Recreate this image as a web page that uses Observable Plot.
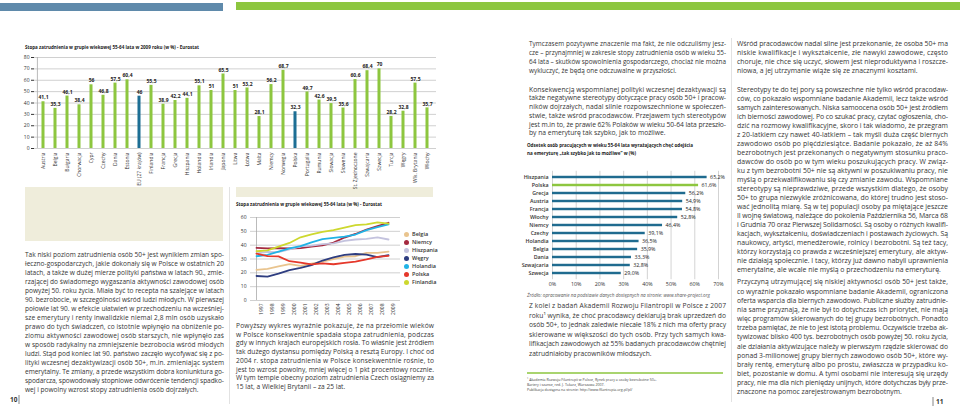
<!DOCTYPE html>
<html><head><meta charset="utf-8">
<script src="https://cdn.jsdelivr.net/npm/d3@7"></script>
<script src="https://cdn.jsdelivr.net/npm/@observablehq/plot@0.6"></script>
<style>
html,body{margin:0;padding:0;background:#fff;}
body{width:960px;height:410px;overflow:hidden;position:relative;font-family:"Open Sans",sans-serif;}
#overlay{position:absolute;left:0;top:0;}
.chart{position:absolute;}
.c3 g[aria-label^="y-axis"] text{font-weight:600;}
.legend{position:absolute;left:404px;top:230px;font:600 5.5px "Open Sans",sans-serif;color:#333;}
.legend div{height:8px;line-height:8px;display:flex;align-items:center;}
.legend span.sw{display:inline-block;width:5px;height:5px;border-radius:50%;margin-right:3px;}
</style></head>
<body>
<svg id="overlay" width="960" height="410"></svg>
<script>
// ---------- Chart 1: employment rate 55-64, 2009 ----------
const countries2009 = ["Austria","Belgia","Bułgaria","Chorwacja","Cypr","Czechy","Dania","Estonia","EU (27 krajów)","Finlandia","Francja","Grecja","Hiszpania","Holandia","Irlandia","Japonia","Litwa","Łotwa","Malta","Niemcy","Norwegia","Polska","Portugalia","Rumunia","Słowacja","Słowenia","St. Zjednoczone","Szwajcaria","Szwecja","Turcja","Węgry","Wlk. Brytania","Włochy"];
const rate2009 = [41.1,35.3,46.1,38.4,56,46.8,57.5,60.4,46,55.5,38.9,42.2,44.1,55.1,51,65.5,51,53.2,28.1,56.2,68.7,32.3,49.7,42.6,39.5,35.6,60.6,68.4,70,28.2,32.8,57.5,35.7];
const highlight2009 = ["EU (27 krajów)","Polska"];
const ticks1 = [0,10,20,30,40,50,60,70,80];

// ---------- Chart 2: employment rate 55-64, 1997-2009 ----------
const years = [1997,1998,1999,2000,2001,2002,2003,2004,2005,2006,2007,2008,2009];
const seriesNames = ["Belgia","Niemcy","Hiszpania","Węgry","Holandia","Polska","Finlandia"];
const belgia    = [22.1,22.9,24.6,26.3,25.1,26.6,28.1,30.0,31.8,32.0,34.4,34.5,35.3];
const niemcy    = [38.1,37.7,37.8,37.6,37.9,38.9,39.9,41.8,45.5,48.1,51.3,53.8,56.2];
const hiszpania = [34.1,35.1,35.0,37.0,39.2,39.6,40.7,41.3,43.1,44.1,44.6,45.6,44.1];
const wegry     = [17.7,17.3,19.4,21.9,23.5,25.6,28.9,31.1,33.0,33.6,33.1,31.4,32.8];
const holandia  = [32.0,33.0,35.3,37.6,39.3,42.0,44.3,45.2,46.1,47.7,50.9,53.0,55.1];
const polska    = [33.9,32.1,31.9,28.4,27.4,26.1,26.9,26.2,27.2,28.1,29.7,31.6,32.3];
const finlandia = [35.6,36.2,39.0,41.6,45.7,47.8,49.6,50.9,52.7,54.5,55.0,56.5,55.5];
const seriesValues = [belgia,niemcy,hiszpania,wegry,holandia,polska,finlandia];
const seriesColors = ["#e9c48e","#a52a40","#c4c3de","#2e3d80","#20b3e6","#e5382b","#cdd82f"];
const ticks2 = [0,10,20,30,40,50,60];

// ---------- Chart 3: wish to retire asap ----------
const retireCountries = ["Hiszpania","Polska","Grecja","Austria","Francja","Włochy","Niemcy","Czechy","Holandia","Belgia","Dania","Szwajcaria","Szwecja"];
const retireShare = [65.2,61.6,56.2,54.9,54.8,52.8,46.4,39.1,36.5,35.9,33.3,32.8,29.0];
const ticks3 = [0,10,20,30,40,50,60,70];

// ---------- Texts ----------
const title1 = "Stopa zatrudnienia w grupie wiekowej 55-64 lata w 2009 roku (w %) - Eurostat";
const title2 = "Stopa zatrudnienia w grupie wiekowej 55-64 lata (w %) - Eurostat";
const title3 = ["Odsetek osób pracujących w wieku 55-64 lata wyrażających chęć odejścia","na emeryturę „tak szybko jak to możliwe” w (%)"];
const source3 = "Źródło: opracowanie na podstawie danych dostępnych na stronie: www.share-project.org";
const leftText = [
"Tak niski poziom zatrudnienia osób 50+ jest wynikiem zmian spo-",
"łeczno-gospodarczych, jakie dokonały się w Polsce w ostatnich 20",
"latach, a także w dużej mierze polityki państwa w latach 90., zmie-",
"rzającej do świadomego wygaszania aktywności zawodowej osób",
"powyżej 50. roku życia. Miała być to recepta na szalejące w latach",
"90. bezrobocie, w szczególności wśród ludzi młodych. W pierwszej",
"połowie lat 90. w efekcie ułatwień w przechodzeniu na wcześniej-",
"sze emerytury i renty inwalidzkie niemal 2,8 mln osób uzyskało",
"prawo do tych świadczeń, co istotnie wpłynęło na obniżenie po-",
"ziomu aktywności zawodowej osób starszych, nie wpłynęło zaś",
"w sposób radykalny na zmniejszenie bezrobocia wśród młodych",
"ludzi. Stąd pod koniec lat 90. państwo zaczęło wycofywać się z po-",
"lityki wczesnej dezaktywizacji osób 50+, m.in. zmieniając system",
"emerytalny. Te zmiany, a przede wszystkim dobra koniunktura go-",
"spodarcza, spowodowały stopniowe odwrócenie tendencji spadko-",
"wej i powolny wzrost stopy zatrudnienia osób dojrzałych."];
const midText = [
"Powyższy wykres wyraźnie pokazuje, że na przełomie wieków",
"w Polsce konsekwentnie spadała stopa zatrudnienia, podczas",
"gdy w innych krajach europejskich rosła. To właśnie jest źródłem",
"tak dużego dystansu pomiędzy Polską a resztą Europy. I choć od",
"2004 r. stopa zatrudnienia w Polsce konsekwentnie rośnie, to",
"jest to wzrost powolny, mniej więcej o 1 pkt procentowy rocznie.",
"W tym tempie obecny poziom zatrudnienia Czech osiągniemy za",
"15 lat, a Wielkiej Brytanii – za 25 lat."];
const c1p1 = [
"Tymczasem pozytywne znaczenie ma fakt, że nie odczuliśmy jesz-",
"cze – przynajmniej w zakresie stopy zatrudnienia osób w wieku 55-",
"64 lata – skutków spowolnienia gospodarczego, chociaż nie można",
"wykluczyć, że będą one odczuwalne w przyszłości."];
const c1p2 = [
"Konsekwencją wspomnianej polityki wczesnej dezaktywacji są",
"także negatywne stereotypy dotyczące pracy osób 50+ i pracow-",
"ników dojrzałych, nadal silnie rozpowszechnione w społeczeń-",
"stwie, także wśród pracodawców. Przejawem tych stereotypów",
"jest m.in to, że prawie 62% Polaków w wieku 50-64 lata przeszło-",
"by na emeryturę tak szybko, jak to możliwe."];
const c1p3 = [
"Z kolei z badań Akademii Rozwoju Filantropii w Polsce z 2007",
"roku¹ wynika, że choć pracodawcy deklarują brak uprzedzeń do",
"osób 50+, to jednak zaledwie niecałe 18% z nich ma oferty pracy",
"skierowane w większości do tych osób. Przy tych samych kwa-",
"lifikacjach zawodowych aż 55% badanych pracodawców chętniej",
"zatrudniałoby pracowników młodszych."];
const footnote = [
"¹  Akademia Rozwoju Filantropii w Polsce, Rynek pracy a osoby bezrobotne 50+.",
"    Bariery i szanse, red. J. Tokarz, Warszawa 2007.",
"    Publikacja dostępna na stronie: http://www.filantropia.org.pl/pl/"];
const c2p1 = [
"Wśród pracodawców nadal silne jest przekonanie, że osoba 50+ ma",
"niskie kwalifikacje i wykształcenie, złe nawyki zawodowe, często",
"choruje, nie chce się uczyć, słowem jest nieproduktywna i roszcze-",
"niowa, a jej utrzymanie wiąże się ze znacznymi kosztami."];
const c2p2 = [
"Stereotypy te do tej pory są powszechne nie tylko wśród pracodaw-",
"ców, co pokazało wspomniane badanie Akademii, lecz także wśród",
"samych zainteresowanych. Niska samoocena osób 50+ jest źródłem",
"ich bierności zawodowej. Po co szukać pracy, czytać ogłoszenia, cho-",
"dzić na rozmowy kwalifikacyjne, skoro i tak wiadomo, że przegram",
"z 20-latkiem czy nawet 40-latkiem – tak myśli duża część biernych",
"zawodowo osób po pięćdziesiątce. Badanie pokazało, że aż 84%",
"bezrobotnych jest przekonanych o negatywnym stosunku praco-",
"dawców do osób po w tym wieku poszukujących pracy. W związ-",
"ku z tym bezrobotni 50+ nie są aktywni w poszukiwaniu pracy, nie",
"myślą o przekwalifikowaniu się czy zmianie zawodu. Wspomniane",
"stereotypy są nieprawdziwe, przede wszystkim dlatego, że osoby",
"50+ to grupa niezwykle zróżnicowana, do której trudno jest stoso-",
"wać jednolitą miarę. Są w tej populacji osoby pa  miętające jeszcze",
"II wojnę światową, należące do pokolenia Października 56, Marca 68",
"i Grudnia 70 oraz Pierwszej Solidarności. Są osoby o różnych kwalifi-",
"kacjach, wykształceniu, doświadczeniach i postawach życiowych. Są",
"naukowcy, artyści, menedżerowie, rolnicy i bezrobotni. Są też tacy,",
"którzy korzystają co prawda z wcześniejszej emerytury, ale aktyw-",
"nie działają społecznie. I tacy, którzy już dawno nabyli uprawnienia",
"emerytalne, ale wcale nie myślą o przechodzeniu na emeryturę."];
const c2p3 = [
"Przyczyną utrzymującej się niskiej aktywności osób 50+ jest także,",
"co wyraźnie pokazało wspomniane badanie Akademii, ograniczona",
"oferta wsparcia dla biernych zawodowo. Publiczne służby zatrudnie-",
"nia same przyznają, że nie był to dotychczas ich priorytet, nie mają",
"więc programów skierowanych do tej grupy bezrobotnych. Ponadto",
"trzeba pamiętać, że nie to jest istotą problemu. Oczywiście trzeba ak-",
"tywizować blisko 400 tys. bezrobotnych osób powyżej 50. roku życia,",
"ale działania aktywizujące należy w pierwszym rzędzie skierować do",
"ponad 3-milionowej grupy biernych zawodowo osób 50+, które wy-",
"brały rentę, emeryturę albo po prostu, zwłaszcza w przypadku ko-",
"biet, pozostanie w domu. A tymi osobami nie interesują się urzędy",
"pracy, nie ma dla nich pieniędzy unijnych, które dotychczas były prze-",
"znaczone na pomoc zarejestrowanym bezrobotnym."];

// ---------- Page decoration & text ----------
const svg = d3.select("#overlay");
const TXT = "#353535";
svg.append("rect").attr("x",0).attr("y",3).attr("width",223).attr("height",8).attr("fill","#5f8aab");
svg.append("rect").attr("x",236).attr("y",2).attr("width",724).attr("height",8).attr("fill","#8dc63f");
svg.append("rect").attr("x",25).attr("y",187).attr("width",198).attr("height",54).attr("fill","#efeddb");
svg.append("rect").attr("x",236).attr("y",187).attr("width",197).attr("height",10).attr("fill","#efeddb");
svg.append("line").attr("x1",229.5).attr("x2",229.5).attr("y1",187).attr("y2",404).attr("stroke","#e2e2e2");
svg.append("line").attr("x1",731.5).attr("x2",731.5).attr("y1",38).attr("y2",402).attr("stroke","#e2e2e2");
svg.append("line").attr("x1",527).attr("x2",723).attr("y1",373).attr("y2",373).attr("stroke","#8dc63f").attr("stroke-width",1.4);

function para(lines, x, w, y0, lh, fs, opt = {}) {
  const els = lines.map((t, i) => {
    const el = svg.append("text")
      .attr("font-size", fs).attr("fill", opt.fill || TXT)
      .attr("font-weight", opt.weight || 400)
      .attr("font-style", opt.italic ? "italic" : "normal")
      .text(t);
    return el;
  });
  const nats = els.map(e => e.node().getComputedTextLength());
  const ratios = nats.slice(0, Math.max(1, lines.length - 1)).map(n => w / n).sort((a,b)=>a-b);
  let k = ratios[Math.floor(ratios.length / 2)];
  if (opt.k) k = opt.k;
  k = Math.max(0.7, Math.min(1, k));
  els.forEach((el, i) => {
    const y = y0 + i * lh + fs * 0.35;
    el.attr("transform", `translate(${x},${y}) scale(${k},1)`);
    const justify = opt.justifyAll || (i < lines.length - 1 && !opt.noJustify);
    if (justify) el.attr("textLength", w / k).attr("lengthAdjust", "spacing");
  });
  return k;
}

para([title1], 25, 174, 47, 0, 5.4, {weight: 700, fill: "#222", justifyAll: true});
para([title2], 236, 146, 203.8, 0, 5.4, {weight: 700, fill: "#222", justifyAll: true});
const kt = para([title3[0]], 527, 166, 145.5, 0, 5.4, {weight: 700, fill: "#222", justifyAll: true});
para([title3[1]], 527, 0, 153, 0, 5.4, {weight: 700, fill: "#222", k: kt, noJustify: true});
para([source3], 527, 183, 295, 0, 5.0, {italic: true, fill: "#555", justifyAll: true});

para(leftText, 25, 199, 254.3, 9.0, 7);
para(midText, 236, 198, 325.4, 8.77, 7);
para(c1p1, 529, 197, 43.4, 9.2, 7);
para(c1p2, 529, 197, 89.3, 8.7, 7);
para(c1p3, 529, 197, 305.8, 9.45, 7);
para(footnote, 527, 138, 380, 4.8, 4.2, {noJustify: true, fill: "#444", k: 0.85});
para(c2p1, 737, 211, 43.3, 9.2, 7);
para(c2p2, 737, 211, 89.3, 9.03, 7);
para(c2p3, 737, 211, 282, 9.17, 7);

svg.append("text").attr("x",10).attr("y",402).attr("font-size",6.5).attr("font-weight",700).attr("fill","#333").text("10");
svg.append("line").attr("x1",19).attr("x2",19).attr("y1",395).attr("y2",404).attr("stroke","#333").attr("stroke-width",0.6);
svg.append("line").attr("x1",933).attr("x2",933).attr("y1",397).attr("y2",406).attr("stroke","#333").attr("stroke-width",0.6);
svg.append("text").attr("x",936).attr("y",404).attr("font-size",6.5).attr("font-weight",700).attr("fill","#333").text("11");

// ---------- Chart helpers ----------
const comma = v => String(v).replace(".", ",");
function place(el, left, top, cls) {
  const wrap = document.createElement("div");
  wrap.className = "chart " + (cls || "");
  wrap.style.left = left + "px"; wrap.style.top = top + "px";
  wrap.appendChild(el);
  document.body.appendChild(wrap);
}

// ---------- Chart 1 ----------
const d1 = countries2009.map((c, i) => ({country: c, value: rate2009[i]}));
const step1 = (450 - 34 - 14) / countries2009.length;
const chart1 = Plot.plot({
  width: 450, height: 160,
  marginLeft: 34, marginRight: 14, marginTop: 17, marginBottom: 52,
  style: {background: "transparent", fontFamily: "Open Sans", fontSize: "5px", color: "#333", overflow: "visible"},
  x: {domain: countries2009, padding: 0, label: null, tickSize: 0, tickPadding: 4, tickRotate: -90},
  y: {domain: [0, 80], ticks: ticks1, label: null, tickSize: 3, tickPadding: 2},
  color: {type: "identity"},
  marks: [
    Plot.ruleY(ticks1, {stroke: "#c4c4c4", strokeWidth: 0.8}),
    Plot.ruleX([countries2009[0]], {dx: -step1 / 2, stroke: "#aaa", strokeWidth: 0.8}),
    Plot.barY(d1, {x: "country", y: "value",
      fill: d => highlight2009.includes(d.country) ? "#1d6e94" : "#8dc63f",
      insetLeft: (step1 - 3.2) / 2, insetRight: (step1 - 3.2) / 2}),
    Plot.text(d1, {x: "country", y: "value", text: d => comma(d.value), dy: -4,
      fontSize: 5, fontWeight: 700, fill: "#222"})
  ]
});
place(chart1, 0, 40);

// ---------- Chart 2 ----------
const lineData = [];
seriesNames.forEach((n, k) => years.forEach((yr, i) => lineData.push({series: n, year: yr, value: seriesValues[k][i]})));
const chart2 = Plot.plot({
  width: 180, height: 115,
  marginLeft: 20, marginRight: 10, marginTop: 12, marginBottom: 20,
  style: {background: "transparent", fontFamily: "Open Sans", fontSize: "5px", color: "#333", overflow: "visible"},
  x: {type: "point", domain: years, range: [20, 164], label: null, tickSize: 0, tickPadding: 3, tickRotate: -90, tickFormat: d => String(d)},
  y: {domain: [0, 60], ticks: ticks2, label: null, tickSize: 0, tickPadding: 4},
  color: {domain: seriesNames, range: seriesColors},
  marks: [
    Plot.ruleY(ticks2, {stroke: "#c4c4c4", strokeWidth: 0.8}),
    Plot.ruleX([years[0]], {stroke: "#aaa", strokeWidth: 0.8}),
    Plot.line(lineData, {x: "year", y: "value", z: "series", stroke: "series", strokeWidth: 1.8})
  ]
});
place(chart2, 230, 205, "c2");
// year labels sit half a category to the right, as in the original
chart2.querySelectorAll('g[aria-label^="x-axis"]').forEach(g => {
  g.setAttribute("transform", "translate(5,0) " + (g.getAttribute("transform") || ""));
});

const legend = document.createElement("div");
legend.className = "legend";
seriesNames.forEach((n, k) => {
  const row = document.createElement("div");
  const sw = document.createElement("span");
  sw.className = "sw"; sw.style.background = seriesColors[k];
  row.appendChild(sw);
  row.appendChild(document.createTextNode(n));
  legend.appendChild(row);
});
document.body.appendChild(legend);

// ---------- Chart 3 ----------
const d3data = retireCountries.map((c, i) => ({country: c, value: retireShare[i]}));
const step3 = (126 - 5.8 - 11.8) / retireCountries.length;
const chart3 = Plot.plot({
  width: 210, height: 126,
  marginLeft: 32, marginRight: 12, marginTop: 5.8, marginBottom: 11.8,
  style: {background: "transparent", fontFamily: "Open Sans", fontSize: "5.3px", color: "#333", overflow: "visible"},
  x: {domain: [0, 70], ticks: ticks3, tickFormat: d => d + "%", label: null, tickSize: 0, tickPadding: 3},
  y: {domain: retireCountries, padding: 0, label: null, tickSize: 0, tickPadding: 4},
  color: {type: "identity"},
  marks: [
    Plot.ruleX(ticks3, {stroke: "#c8c8c8", strokeWidth: 0.8}),
    Plot.barX(d3data, {x: "value", y: "country",
      fill: d => d.country === "Polska" ? "#8dc63f" : "#1f6b8f",
      insetTop: (step3 - 2.8) / 2, insetBottom: (step3 - 2.8) / 2}),
    Plot.text(d3data, {x: "value", y: "country", text: d => d.value.toFixed(1).replace(".", ",") + "%",
      dx: 3, textAnchor: "start", fontSize: 5.3, fill: "#222"})
  ]
});
place(chart3, 520, 165, "c3");
</script>
</body></html>
